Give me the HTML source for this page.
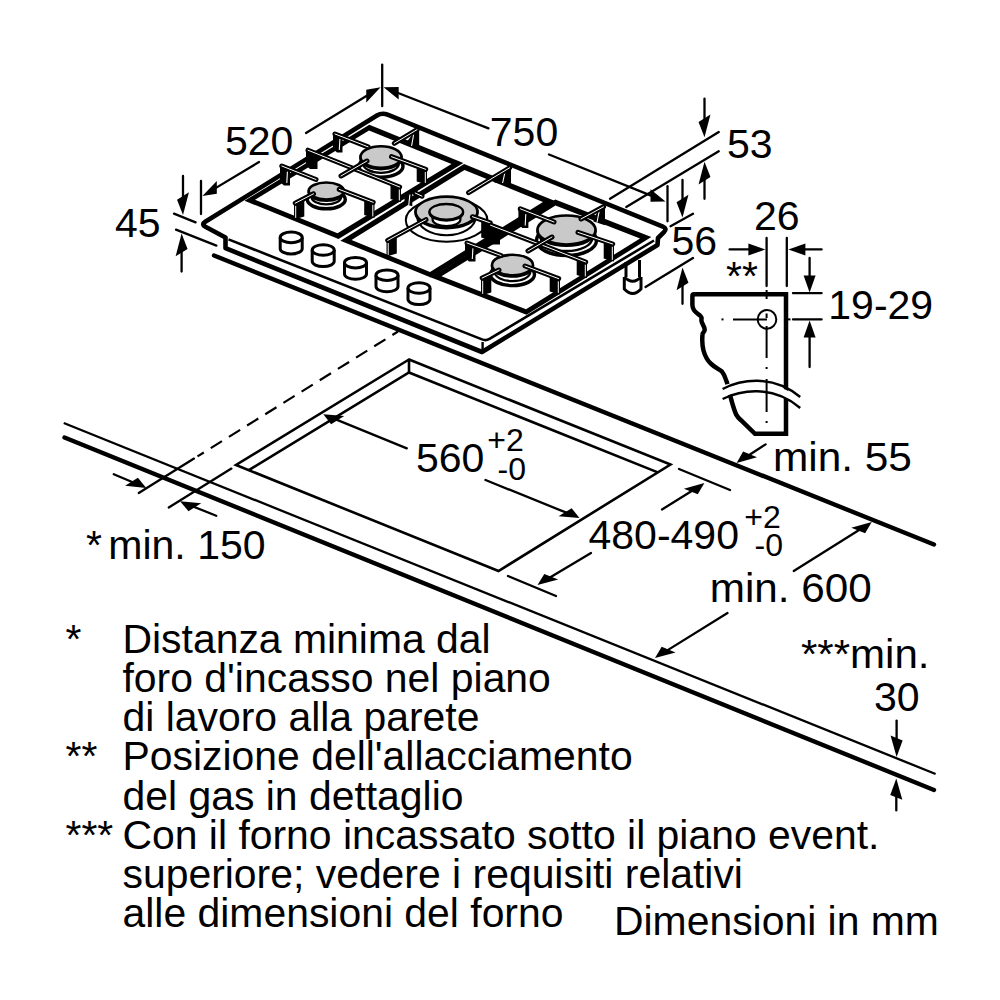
<!DOCTYPE html>
<html lang="it"><head><meta charset="utf-8"><title>Hob installation dimensions</title>
<style>html,body{margin:0;padding:0;background:#fff}svg{display:block}text{font-family:"Liberation Sans",sans-serif;fill:#000}</style></head>
<body>
<svg width="1000" height="1000" viewBox="0 0 1000 1000">
<rect width="1000" height="1000" fill="#fff"/>
<line x1="214" y1="255.5" x2="934" y2="544.5" stroke="#000" stroke-width="4.4" stroke-linecap="round" />
<line x1="63.75" y1="423" x2="935.6" y2="774" stroke="#000" stroke-width="2.3" stroke-linecap="butt" />
<line x1="64.5" y1="437.5" x2="934" y2="790" stroke="#000" stroke-width="4.4" stroke-linecap="round" />
<path d="M409 359.5 L236 465 L498.5 571 L670.5 464.5 Z" fill="none" stroke="#000" stroke-width="2.6" stroke-linejoin="miter" stroke-linecap="round" />
<path d="M248.8 470.2 L409 372.5 L657.8 472.4" fill="none" stroke="#000" stroke-width="2.6" stroke-linejoin="miter" stroke-linecap="butt" />
<line x1="409" y1="359.5" x2="409" y2="372.5" stroke="#000" stroke-width="2.6" stroke-linecap="butt" />
<line x1="398" y1="331.5" x2="197.5" y2="456.4" stroke="#000" stroke-width="2.2" stroke-linecap="butt" stroke-dasharray="13.2 8.2" stroke-dashoffset="6.6"/>
<line x1="194" y1="458.6" x2="138.75" y2="493" stroke="#000" stroke-width="2.3" stroke-linecap="round" />
<line x1="231.4" y1="468.6" x2="168.75" y2="507.5" stroke="#000" stroke-width="2.3" stroke-linecap="round" />
<line x1="113.75" y1="474.25" x2="133.36" y2="482.55" stroke="#000" stroke-width="2.3" stroke-linecap="round" />
<polygon points="146.25,488 125.13,485.71 137.9,477.82" fill="#000" stroke="none" stroke-width="0" stroke-linejoin="round"/>
<line x1="216.25" y1="515.75" x2="193" y2="506.45" stroke="#000" stroke-width="2.3" stroke-linecap="round" />
<polygon points="180,501.25 188.47,511.14 201.24,503.25" fill="#000" stroke="none" stroke-width="0" stroke-linejoin="round"/>
<path d="M225.5 237.5 L205.41 226.76 Q201 224.4 205.25 221.77 L376.9 115.56 Q382 112.4 387.56 114.66 L662.87 226.62 Q667.5 228.5 663.96 232.04 L658 238 L657.5 245 L482 352 L225.5 248.2 Z" fill="#fff" stroke="#000" stroke-width="4.6" stroke-linejoin="round"/>
<path d="M228.5 239.4 L482 339.4 Q486 341 489.5 338.9 L654 240.5" fill="none" stroke="#000" stroke-width="2.6" stroke-linejoin="round" stroke-linecap="butt" />
<line x1="482.6" y1="342" x2="482.6" y2="351" stroke="#000" stroke-width="2.4" stroke-linecap="butt" />
<polygon points="244.47,200.7 369.32,124.8 463.37,162.99 338.51,238.89" fill="#000" stroke="none" stroke-width="0" stroke-linejoin="round"/>
<polygon points="255,199.8 369,130.5 451.5,164 337.5,233.3" fill="#fff" stroke="none" stroke-width="0" stroke-linejoin="round"/>
<polygon points="340.38,240.65 464.11,164.01 554.52,200.86 430.79,277.51" fill="#000" stroke="none" stroke-width="0" stroke-linejoin="round"/>
<polygon points="351.5,240 464.5,170 543,202 430,272" fill="#fff" stroke="none" stroke-width="0" stroke-linejoin="round"/>
<polygon points="430.47,277.15 555.3,199.62 651.32,237.12 526.49,314.65" fill="#000" stroke="none" stroke-width="0" stroke-linejoin="round"/>
<polygon points="441.5,276.3 555.5,205.5 640,238.5 526,309.3" fill="#fff" stroke="none" stroke-width="0" stroke-linejoin="round"/>
<ellipse cx="381" cy="166.3" rx="22" ry="11" fill="#fff" stroke="#000" stroke-width="3.4" />
<ellipse cx="381" cy="163.7" rx="17.8" ry="9.1" fill="#fff" stroke="#000" stroke-width="2.3" />
<ellipse cx="381" cy="158.3" rx="20.5" ry="10.8" fill="#000" stroke="#000" stroke-width="2.6" />
<ellipse cx="381" cy="157" rx="20.5" ry="10.8" fill="#c9c9c9" stroke="#000" stroke-width="2.6" />
<ellipse cx="326.3" cy="199.6" rx="19" ry="9.2" fill="#fff" stroke="#000" stroke-width="3.4" />
<ellipse cx="326.3" cy="197" rx="14.8" ry="7.3" fill="#fff" stroke="#000" stroke-width="2.3" />
<ellipse cx="326.3" cy="192.3" rx="17.6" ry="8.5" fill="#000" stroke="#000" stroke-width="2.6" />
<ellipse cx="326.3" cy="191" rx="17.6" ry="8.5" fill="#c9c9c9" stroke="#000" stroke-width="2.6" />
<ellipse cx="566.5" cy="240.5" rx="30" ry="15" fill="#fff" stroke="#000" stroke-width="3.4" />
<ellipse cx="566.5" cy="237.9" rx="25.8" ry="13.1" fill="#fff" stroke="#000" stroke-width="2.3" />
<ellipse cx="566.5" cy="231.3" rx="29" ry="14.5" fill="#000" stroke="#000" stroke-width="2.6" />
<ellipse cx="566.5" cy="230" rx="29" ry="14.5" fill="#c9c9c9" stroke="#000" stroke-width="2.6" />
<ellipse cx="512.5" cy="274.6" rx="22" ry="11" fill="#fff" stroke="#000" stroke-width="3.4" />
<ellipse cx="512.5" cy="272" rx="17.8" ry="9.1" fill="#fff" stroke="#000" stroke-width="2.3" />
<ellipse cx="512.5" cy="266.3" rx="20.5" ry="10.2" fill="#000" stroke="#000" stroke-width="2.6" />
<ellipse cx="512.5" cy="265" rx="20.5" ry="10.2" fill="#c9c9c9" stroke="#000" stroke-width="2.6" />
<ellipse cx="446.6" cy="220.2" rx="40.8" ry="21.5" fill="#fff" stroke="#000" stroke-width="2" />
<ellipse cx="446.5" cy="217" rx="29.2" ry="18.2" fill="#fff" stroke="#000" stroke-width="2" />
<ellipse cx="446.5" cy="213" rx="31" ry="15.2" fill="#000" stroke="#000" stroke-width="2.4" />
<ellipse cx="446.5" cy="211.8" rx="31" ry="15.2" fill="#c9c9c9" stroke="#000" stroke-width="2.6" />
<path d="M432.6 213 L432.6 219.8 A13.9 6.2 0 0 0 460.4 219.8 L460.4 213 Z" fill="#fff" stroke="#000" stroke-width="2.2" stroke-linejoin="round" stroke-linecap="butt" />
<ellipse cx="446.3" cy="212.8" rx="16.8" ry="7.8" fill="#000" stroke="#000" stroke-width="2.2" />
<ellipse cx="446.3" cy="211.8" rx="16.8" ry="7.8" fill="#c9c9c9" stroke="#000" stroke-width="2.4" />
<polygon points="333,132 342.5,136.44 342.5,152.5 337,152.5 333,149" fill="#000" stroke="none" stroke-width="0" stroke-linejoin="round"/>
<line x1="339.9" y1="138.94" x2="339.3" y2="150" stroke="#fff" stroke-width="1.1"/>
<polygon points="306,148.5 317.5,153.75 317.5,169 310,169 306,165.5" fill="#000" stroke="none" stroke-width="0" stroke-linejoin="round"/>
<polygon points="280,164.5 290,169.15 290,185.5 284,185.5 280,182" fill="#000" stroke="none" stroke-width="0" stroke-linejoin="round"/>
<line x1="287.4" y1="171.65" x2="286.8" y2="183" stroke="#fff" stroke-width="1.1"/>
<path d="M335 134 L368 146.8" fill="none" stroke="#000" stroke-width="5.0" stroke-linejoin="miter" stroke-linecap="round" />
<path d="M335 134 L368 146.8" fill="none" stroke="#fff" stroke-width="1.0" stroke-linejoin="miter" stroke-linecap="round" />
<polygon points="401,185.5 390.5,182.75 390.5,199 401,202" fill="#000" stroke="none" stroke-width="0" stroke-linejoin="round"/>
<line x1="399.3" y1="189.2" x2="399.3" y2="200.4" stroke="#fff" stroke-width="1.0"/>
<path d="M308 150.2 L399.6 187" fill="none" stroke="#000" stroke-width="5.0" stroke-linejoin="miter" stroke-linecap="round" />
<path d="M308 150.2 L399.6 187" fill="none" stroke="#fff" stroke-width="1.0" stroke-linejoin="miter" stroke-linecap="round" />
<path d="M281.8 166 L316 179.5" fill="none" stroke="#000" stroke-width="5.0" stroke-linejoin="miter" stroke-linecap="round" />
<path d="M281.8 166 L316 179.5" fill="none" stroke="#fff" stroke-width="1.0" stroke-linejoin="miter" stroke-linecap="round" />
<polygon points="419.2,129 415,131 407,141.5 407,144.2 419.2,149.2" fill="#000" stroke="none" stroke-width="0" stroke-linejoin="round"/>
<line x1="413.6" y1="134.5" x2="411.6" y2="146" stroke="#fff" stroke-width="1.1"/>
<path d="M394.3 143.3 L417 129.7" fill="none" stroke="#000" stroke-width="5.0" stroke-linejoin="miter" stroke-linecap="round" />
<path d="M394.3 143.3 L417 129.7" fill="none" stroke="#fff" stroke-width="1.0" stroke-linejoin="miter" stroke-linecap="round" />
<polygon points="427,168 416.7,165.33 416.7,181.5 427,184.5" fill="#000" stroke="none" stroke-width="0" stroke-linejoin="round"/>
<line x1="425.3" y1="171.7" x2="425.3" y2="182.9" stroke="#fff" stroke-width="1.0"/>
<path d="M391.5 156.7 L425.7 169.3" fill="none" stroke="#000" stroke-width="5.0" stroke-linejoin="miter" stroke-linecap="round" />
<path d="M391.5 156.7 L425.7 169.3" fill="none" stroke="#fff" stroke-width="1.0" stroke-linejoin="miter" stroke-linecap="round" />
<path d="M341 176 L367 161" fill="none" stroke="#000" stroke-width="5.0" stroke-linejoin="miter" stroke-linecap="round" />
<path d="M341 176 L367 161" fill="none" stroke="#fff" stroke-width="1.0" stroke-linejoin="miter" stroke-linecap="round" />
<polygon points="374.5,201 364.2,198.33 364.2,215 374.5,218" fill="#000" stroke="none" stroke-width="0" stroke-linejoin="round"/>
<line x1="372.8" y1="204.7" x2="372.8" y2="216.4" stroke="#fff" stroke-width="1.0"/>
<path d="M339.2 189.4 L373.2 202.3" fill="none" stroke="#000" stroke-width="5.0" stroke-linejoin="miter" stroke-linecap="round" />
<path d="M339.2 189.4 L373.2 202.3" fill="none" stroke="#fff" stroke-width="1.0" stroke-linejoin="miter" stroke-linecap="round" />
<polygon points="294,202 304.3,198.14 304.3,216.5 294,219.5" fill="#000" stroke="none" stroke-width="0" stroke-linejoin="round"/>
<line x1="295.7" y1="205.7" x2="295.7" y2="217.9" stroke="#fff" stroke-width="1.0"/>
<path d="M313.5 193.8 L295.2 203.2" fill="none" stroke="#000" stroke-width="5.0" stroke-linejoin="miter" stroke-linecap="round" />
<path d="M313.5 193.8 L295.2 203.2" fill="none" stroke="#fff" stroke-width="1.0" stroke-linejoin="miter" stroke-linecap="round" />
<polygon points="404.5,193 412.3,190.3 412.3,206.3 404.5,204" fill="#000" stroke="none" stroke-width="0" stroke-linejoin="round"/>
<line x1="409.9" y1="194.5" x2="408.7" y2="205.5" stroke="#fff" stroke-width="1.1"/>
<path d="M415.2 193 L422 196.2" fill="none" stroke="#000" stroke-width="5.0" stroke-linejoin="miter" stroke-linecap="round" />
<path d="M415.2 193 L422 196.2" fill="none" stroke="#fff" stroke-width="1.0" stroke-linejoin="miter" stroke-linecap="round" />
<polygon points="511,166.8 506,169 494.5,180 494.5,182.5 511,185.8" fill="#000" stroke="none" stroke-width="0" stroke-linejoin="round"/>
<line x1="505" y1="172" x2="502.6" y2="183" stroke="#fff" stroke-width="1.1"/>
<path d="M468.6 192.6 L509.6 167.8" fill="none" stroke="#000" stroke-width="5.0" stroke-linejoin="miter" stroke-linecap="round" />
<path d="M468.6 192.6 L509.6 167.8" fill="none" stroke="#fff" stroke-width="1.0" stroke-linejoin="miter" stroke-linecap="round" />
<polygon points="386.5,239.3 396.8,235.44 396.8,253.5 386.5,256.5" fill="#000" stroke="none" stroke-width="0" stroke-linejoin="round"/>
<line x1="388.2" y1="243" x2="388.2" y2="254.9" stroke="#fff" stroke-width="1.0"/>
<path d="M426 219.6 L387.7 240.4" fill="none" stroke="#000" stroke-width="5.0" stroke-linejoin="miter" stroke-linecap="round" />
<path d="M426 219.6 L387.7 240.4" fill="none" stroke="#fff" stroke-width="1.0" stroke-linejoin="miter" stroke-linecap="round" />
<polygon points="491.5,221.5 481.2,218.83 481.2,237.5 491.5,240.5" fill="#000" stroke="none" stroke-width="0" stroke-linejoin="round"/>
<line x1="489.8" y1="225.2" x2="489.8" y2="238.9" stroke="#fff" stroke-width="1.0"/>
<path d="M472.4 216.7 L490.2 222.8" fill="none" stroke="#000" stroke-width="5.0" stroke-linejoin="miter" stroke-linecap="round" />
<path d="M472.4 216.7 L490.2 222.8" fill="none" stroke="#fff" stroke-width="1.0" stroke-linejoin="miter" stroke-linecap="round" />
<polygon points="465,241 475.5,245.85 475.5,261.5 469,261.5 465,258" fill="#000" stroke="none" stroke-width="0" stroke-linejoin="round"/>
<line x1="472.9" y1="248.35" x2="472.3" y2="259" stroke="#fff" stroke-width="1.1"/>
<polygon points="488.5,223 500,228.25 500,244.5 492.5,244.5 488.5,241" fill="#000" stroke="none" stroke-width="0" stroke-linejoin="round"/>
<polygon points="518.4,207 528.4,211.65 528.4,228 522.4,228 518.4,224.5" fill="#000" stroke="none" stroke-width="0" stroke-linejoin="round"/>
<line x1="525.8" y1="214.15" x2="525.2" y2="225.5" stroke="#fff" stroke-width="1.1"/>
<path d="M467 243 L501 255.5" fill="none" stroke="#000" stroke-width="5.0" stroke-linejoin="miter" stroke-linecap="round" />
<path d="M467 243 L501 255.5" fill="none" stroke="#fff" stroke-width="1.0" stroke-linejoin="miter" stroke-linecap="round" />
<polygon points="587,260.8 576.7,258.13 576.7,275 587,278" fill="#000" stroke="none" stroke-width="0" stroke-linejoin="round"/>
<line x1="585.3" y1="264.5" x2="585.3" y2="276.4" stroke="#fff" stroke-width="1.0"/>
<path d="M490.5 225.2 L585.7 262" fill="none" stroke="#000" stroke-width="5.0" stroke-linejoin="miter" stroke-linecap="round" />
<path d="M490.5 225.2 L585.7 262" fill="none" stroke="#fff" stroke-width="1.0" stroke-linejoin="miter" stroke-linecap="round" />
<path d="M520.3 208.8 L554 222" fill="none" stroke="#000" stroke-width="5.0" stroke-linejoin="miter" stroke-linecap="round" />
<path d="M520.3 208.8 L554 222" fill="none" stroke="#fff" stroke-width="1.0" stroke-linejoin="miter" stroke-linecap="round" />
<path d="M528 251 L552 237" fill="none" stroke="#000" stroke-width="5.0" stroke-linejoin="miter" stroke-linecap="round" />
<path d="M528 251 L552 237" fill="none" stroke="#fff" stroke-width="1.0" stroke-linejoin="miter" stroke-linecap="round" />
<polygon points="605,205.3 600.5,207.5 593.5,218.5 593.5,221.5 605,225.3" fill="#000" stroke="none" stroke-width="0" stroke-linejoin="round"/>
<line x1="599.2" y1="211" x2="597" y2="222.5" stroke="#fff" stroke-width="1.1"/>
<path d="M581 219 L603.5 206.8" fill="none" stroke="#000" stroke-width="5.0" stroke-linejoin="miter" stroke-linecap="round" />
<path d="M581 219 L603.5 206.8" fill="none" stroke="#fff" stroke-width="1.0" stroke-linejoin="miter" stroke-linecap="round" />
<polygon points="614,242.8 603.7,240.13 603.7,258.5 614,261.5" fill="#000" stroke="none" stroke-width="0" stroke-linejoin="round"/>
<line x1="612.3" y1="246.5" x2="612.3" y2="259.9" stroke="#fff" stroke-width="1.0"/>
<path d="M578 232.4 L612.7 244" fill="none" stroke="#000" stroke-width="5.0" stroke-linejoin="miter" stroke-linecap="round" />
<path d="M578 232.4 L612.7 244" fill="none" stroke="#fff" stroke-width="1.0" stroke-linejoin="miter" stroke-linecap="round" />
<polygon points="560,277.5 549.7,274.83 549.7,291.5 560,294.5" fill="#000" stroke="none" stroke-width="0" stroke-linejoin="round"/>
<line x1="558.3" y1="281.2" x2="558.3" y2="292.9" stroke="#fff" stroke-width="1.0"/>
<path d="M525 266 L558.7 278.7" fill="none" stroke="#000" stroke-width="5.0" stroke-linejoin="miter" stroke-linecap="round" />
<path d="M525 266 L558.7 278.7" fill="none" stroke="#fff" stroke-width="1.0" stroke-linejoin="miter" stroke-linecap="round" />
<polygon points="481,277 491.3,273.14 491.3,292.5 481,295.5" fill="#000" stroke="none" stroke-width="0" stroke-linejoin="round"/>
<line x1="482.7" y1="280.7" x2="482.7" y2="293.9" stroke="#fff" stroke-width="1.0"/>
<path d="M499 270 L482.2 278" fill="none" stroke="#000" stroke-width="5.0" stroke-linejoin="miter" stroke-linecap="round" />
<path d="M499 270 L482.2 278" fill="none" stroke="#fff" stroke-width="1.0" stroke-linejoin="miter" stroke-linecap="round" />
<path d="M280.2 237.4 L280.2 248.70000000000002 A11 5.3 0 0 0 302.2 248.70000000000002 L302.2 237.4" fill="#fff" stroke="#000" stroke-width="3" stroke-linejoin="round" stroke-linecap="butt" />
<ellipse cx="291.2" cy="237.4" rx="11" ry="5.3" fill="#fff" stroke="#000" stroke-width="3" />
<path d="M312.2 250 L312.2 261.3 A11 5.3 0 0 0 334.2 261.3 L334.2 250" fill="#fff" stroke="#000" stroke-width="3" stroke-linejoin="round" stroke-linecap="butt" />
<ellipse cx="323.2" cy="250" rx="11" ry="5.3" fill="#fff" stroke="#000" stroke-width="3" />
<path d="M344.5 262.7 L344.5 274.0 A11 5.3 0 0 0 366.5 274.0 L366.5 262.7" fill="#fff" stroke="#000" stroke-width="3" stroke-linejoin="round" stroke-linecap="butt" />
<ellipse cx="355.5" cy="262.7" rx="11" ry="5.3" fill="#fff" stroke="#000" stroke-width="3" />
<path d="M376 275.2 L376 286.5 A11 5.3 0 0 0 398 286.5 L398 275.2" fill="#fff" stroke="#000" stroke-width="3" stroke-linejoin="round" stroke-linecap="butt" />
<ellipse cx="387" cy="275.2" rx="11" ry="5.3" fill="#fff" stroke="#000" stroke-width="3" />
<path d="M408 288 L408 299.3 A11 5.3 0 0 0 430 299.3 L430 288" fill="#fff" stroke="#000" stroke-width="3" stroke-linejoin="round" stroke-linecap="butt" />
<ellipse cx="419" cy="288" rx="11" ry="5.3" fill="#fff" stroke="#000" stroke-width="3" />
<path d="M626 262 L626 277 M639.5 260 L639.5 277" fill="none" stroke="#000" stroke-width="3" stroke-linejoin="round" stroke-linecap="butt" />
<path d="M624.3 277 L624.3 289 Q632.7 298 641 289 L641 277" fill="none" stroke="#000" stroke-width="3" stroke-linejoin="round" stroke-linecap="butt" />
<path d="M624.3 277 Q632.7 285.5 641 277" fill="none" stroke="#000" stroke-width="3" stroke-linejoin="round" stroke-linecap="butt" />
<line x1="201" y1="181" x2="201" y2="214" stroke="#000" stroke-width="2.3" stroke-linecap="round" />
<line x1="259" y1="162" x2="215.09" y2="188.38" stroke="#000" stroke-width="2.3" stroke-linecap="round" />
<polygon points="202.4,196 216.8,193.65 216.8,181.05" fill="#000" stroke="none" stroke-width="0" stroke-linejoin="round"/>
<line x1="306" y1="133" x2="367.98" y2="95.03" stroke="#000" stroke-width="2.3" stroke-linecap="round" />
<polygon points="380.6,87.3 366.27,102.38 366.27,89.78" fill="#000" stroke="none" stroke-width="0" stroke-linejoin="round"/>
<text x="225" y="155" font-size="41" text-anchor="start" >520</text>
<line x1="382.2" y1="64.6" x2="382.2" y2="106.2" stroke="#000" stroke-width="2.3" stroke-linecap="round" />
<line x1="488.5" y1="128.4" x2="396.82" y2="92.48" stroke="#000" stroke-width="2.3" stroke-linecap="round" />
<polygon points="383.6,87.3 398.68,99.51 398.68,86.91" fill="#000" stroke="none" stroke-width="0" stroke-linejoin="round"/>
<line x1="549" y1="154.5" x2="652.33" y2="196.19" stroke="#000" stroke-width="2.3" stroke-linecap="round" />
<polygon points="665.5,201.5 650.48,201.74 650.48,189.14" fill="#000" stroke="none" stroke-width="0" stroke-linejoin="round"/>
<text x="489.8" y="146.4" font-size="41" text-anchor="start" >750</text>
<line x1="667.5" y1="186.25" x2="667.5" y2="221.25" stroke="#000" stroke-width="2.3" stroke-linecap="round" />
<line x1="704.5" y1="98.75" x2="704.5" y2="120.2" stroke="#000" stroke-width="2.3" stroke-linecap="round" />
<polygon points="704.5,137.2 698.54,121.88 710.46,114.52" fill="#000" stroke="none" stroke-width="0" stroke-linejoin="round"/>
<line x1="610" y1="198.75" x2="718.75" y2="132" stroke="#000" stroke-width="2.3" stroke-linecap="round" />
<line x1="626.25" y1="207" x2="718.75" y2="151.25" stroke="#000" stroke-width="2.3" stroke-linecap="round" />
<line x1="704.5" y1="198.75" x2="704.5" y2="178.8" stroke="#000" stroke-width="2.3" stroke-linecap="round" />
<polygon points="704.5,161.8 698.54,184.48 710.46,177.12" fill="#000" stroke="none" stroke-width="0" stroke-linejoin="round"/>
<text x="727" y="158" font-size="41" text-anchor="start" >53</text>
<line x1="682.5" y1="180" x2="682.5" y2="200.5" stroke="#000" stroke-width="2.3" stroke-linecap="round" />
<polygon points="682.5,217.5 676.54,202.18 688.46,194.82" fill="#000" stroke="none" stroke-width="0" stroke-linejoin="round"/>
<line x1="670.5" y1="226.25" x2="693" y2="213.75" stroke="#000" stroke-width="2.3" stroke-linecap="round" />
<line x1="645.5" y1="287" x2="693" y2="258" stroke="#000" stroke-width="2.3" stroke-linecap="round" />
<line x1="682.5" y1="303.75" x2="682.5" y2="284.5" stroke="#000" stroke-width="2.3" stroke-linecap="round" />
<polygon points="682.5,267.5 676.54,290.18 688.46,282.82" fill="#000" stroke="none" stroke-width="0" stroke-linejoin="round"/>
<text x="671.5" y="255" font-size="41" text-anchor="start" >56</text>
<line x1="183" y1="176" x2="183" y2="198" stroke="#000" stroke-width="2.3" stroke-linecap="round" />
<polygon points="183,215 177.04,199.68 188.96,192.32" fill="#000" stroke="none" stroke-width="0" stroke-linejoin="round"/>
<line x1="174" y1="213.6" x2="195.6" y2="222.4" stroke="#000" stroke-width="2.3" stroke-linecap="round" />
<line x1="176" y1="229.6" x2="216.4" y2="245.6" stroke="#000" stroke-width="2.3" stroke-linecap="round" />
<line x1="181.6" y1="271.6" x2="181.6" y2="250.6" stroke="#000" stroke-width="2.3" stroke-linecap="round" />
<polygon points="181.6,233.6 175.64,256.28 187.56,248.92" fill="#000" stroke="none" stroke-width="0" stroke-linejoin="round"/>
<text x="115" y="237" font-size="41" text-anchor="start" >45</text>
<text x="754" y="229.5" font-size="41" text-anchor="start" >26</text>
<line x1="766.6" y1="238" x2="766.6" y2="286" stroke="#000" stroke-width="2.3" stroke-linecap="round" />
<line x1="786.8" y1="238" x2="786.8" y2="286" stroke="#000" stroke-width="2.3" stroke-linecap="round" />
<line x1="729.6" y1="249.4" x2="750.4" y2="249.4" stroke="#000" stroke-width="2.3" stroke-linecap="round" />
<polygon points="765.4,249.4 748.4,255.4 748.4,243.4" fill="#000" stroke="none" stroke-width="0" stroke-linejoin="round"/>
<line x1="821.6" y1="249.4" x2="803.4" y2="249.4" stroke="#000" stroke-width="2.3" stroke-linecap="round" />
<polygon points="788.4,249.4 805.4,243.4 805.4,255.4" fill="#000" stroke="none" stroke-width="0" stroke-linejoin="round"/>
<text x="726" y="289.5" font-size="41" text-anchor="start" >**</text>
<line x1="809.6" y1="258" x2="809.6" y2="277.4" stroke="#000" stroke-width="2.3" stroke-linecap="round" />
<polygon points="809.6,292.4 803.6,275.4 815.6,275.4" fill="#000" stroke="none" stroke-width="0" stroke-linejoin="round"/>
<line x1="793" y1="293.2" x2="821.6" y2="293.2" stroke="#000" stroke-width="2.3" stroke-linecap="round" />
<line x1="793" y1="319.4" x2="821.6" y2="319.4" stroke="#000" stroke-width="2.3" stroke-linecap="round" />
<line x1="809.6" y1="367" x2="809.6" y2="335.6" stroke="#000" stroke-width="2.3" stroke-linecap="round" />
<polygon points="809.6,320.6 815.6,337.6 803.6,337.6" fill="#000" stroke="none" stroke-width="0" stroke-linejoin="round"/>
<text x="828.3" y="319.2" font-size="41" text-anchor="start" >19-29</text>
<path d="M692.4 296 L692.4 305 C692.6 309 695 312 697.8 313.8 C699.6 315 701.6 316.4 701.6 318 C701.4 319.6 701 321.2 702.2 323.2 C703.4 325.4 704.8 327.5 704.7 330 C704.6 332 702.6 332.4 702.5 334.2 C702 340 702.3 346 703.5 350.5 C705 356 707 360 710.6 363.4 C714 367 719 369 721.8 371.4 C724 374 725 377 725.8 379.4 C727 382 727.7 385 728.2 387.4 L731.4 400.2 C733 406 734.5 411 736.2 414.6 C737.5 417 739 418.5 741 420.2 L755 433.8 L786 433.8 L786 294.3 L694 294.3 Q692.4 294.3 692.4 296 Z" fill="#fff" stroke="#000" stroke-width="4.5" stroke-linejoin="miter" stroke-linecap="butt" />
<path d="M715 389 C735 379 765 376 800 397 L806 410 C770 386 745 388 715 400 Z" fill="#fff" stroke="none"/>
<path d="M722.6 389 C740 380 772 373.5 800.2 397" fill="none" stroke="#000" stroke-width="2.4" stroke-linejoin="round" stroke-linecap="butt" />
<path d="M722.6 399 C740 390.5 772 384 800.2 408" fill="none" stroke="#000" stroke-width="2.4" stroke-linejoin="round" stroke-linecap="butt" />
<ellipse cx="767" cy="319.4" rx="9.3" ry="9.3" fill="none" stroke="#000" stroke-width="2" />
<line x1="733" y1="319.4" x2="767" y2="319.4" stroke="#000" stroke-width="2" stroke-linecap="butt" />
<line x1="721.5" y1="319.4" x2="723.5" y2="319.4" stroke="#000" stroke-width="2" stroke-linecap="butt" />
<line x1="788" y1="319.4" x2="790.5" y2="319.4" stroke="#000" stroke-width="2" stroke-linecap="butt" />
<line x1="766.6" y1="290" x2="766.6" y2="299" stroke="#000" stroke-width="2" stroke-linecap="butt" />
<line x1="766.6" y1="313.5" x2="766.6" y2="318" stroke="#000" stroke-width="2" stroke-linecap="butt" />
<line x1="766.6" y1="326" x2="766.6" y2="358" stroke="#000" stroke-width="2" stroke-linecap="butt" />
<line x1="766.6" y1="367" x2="766.6" y2="369" stroke="#000" stroke-width="2" stroke-linecap="butt" />
<line x1="766.6" y1="379" x2="766.6" y2="412" stroke="#000" stroke-width="2" stroke-linecap="butt" />
<line x1="766.6" y1="421" x2="766.6" y2="423" stroke="#000" stroke-width="2" stroke-linecap="butt" />
<line x1="765.6" y1="444.4" x2="748.38" y2="455.44" stroke="#000" stroke-width="2.3" stroke-linecap="round" />
<polygon points="736.6,463 757.01,457.19 743.12,451.53" fill="#000" stroke="none" stroke-width="0" stroke-linejoin="round"/>
<text x="773" y="471.4" font-size="41" text-anchor="start" textLength="138.9" lengthAdjust="spacingAndGlyphs">min. 55</text>
<line x1="406.8" y1="448.4" x2="335.8" y2="419.4" stroke="#000" stroke-width="2.3" stroke-linecap="round" />
<polygon points="323.3,414.3 331.1,424.21 344.2,416.11" fill="#000" stroke="none" stroke-width="0" stroke-linejoin="round"/>
<line x1="485.5" y1="480" x2="566.98" y2="512.94" stroke="#000" stroke-width="2.3" stroke-linecap="round" />
<polygon points="579.5,518 558.58,516.24 571.68,508.14" fill="#000" stroke="none" stroke-width="0" stroke-linejoin="round"/>
<text x="416" y="472" font-size="41" text-anchor="start" >560</text>
<text x="487.3" y="451.3" font-size="32" text-anchor="start" >+2</text>
<text x="497.5" y="479.6" font-size="32" text-anchor="start" >-0</text>
<line x1="679" y1="469" x2="730" y2="490" stroke="#000" stroke-width="2.3" stroke-linecap="round" />
<line x1="662" y1="509.5" x2="692.53" y2="490.42" stroke="#000" stroke-width="2.3" stroke-linecap="round" />
<polygon points="704.4,483 697.78,494.31 683.89,488.65" fill="#000" stroke="none" stroke-width="0" stroke-linejoin="round"/>
<line x1="591" y1="553" x2="549.51" y2="577.81" stroke="#000" stroke-width="2.3" stroke-linecap="round" />
<polygon points="537.5,585 558.18,579.61 544.29,573.96" fill="#000" stroke="none" stroke-width="0" stroke-linejoin="round"/>
<line x1="508" y1="576" x2="556" y2="596" stroke="#000" stroke-width="2.3" stroke-linecap="round" />
<text x="588.5" y="549" font-size="41" text-anchor="start" >480-490</text>
<text x="744.2" y="528.2" font-size="32" text-anchor="start" >+2</text>
<text x="754.6" y="556.2" font-size="32" text-anchor="start" >-0</text>
<line x1="793.75" y1="571" x2="859.9" y2="529.45" stroke="#000" stroke-width="2.3" stroke-linecap="round" />
<polygon points="871.75,522 865.15,533.34 851.26,527.68" fill="#000" stroke="none" stroke-width="0" stroke-linejoin="round"/>
<line x1="727.5" y1="613" x2="666.89" y2="650.62" stroke="#000" stroke-width="2.3" stroke-linecap="round" />
<polygon points="655,658 675.54,652.39 661.65,646.73" fill="#000" stroke="none" stroke-width="0" stroke-linejoin="round"/>
<text x="709.7" y="602" font-size="41" text-anchor="start" textLength="162.1" lengthAdjust="spacingAndGlyphs">min. 600</text>
<text x="801" y="667.8" font-size="41" text-anchor="start" textLength="128.5" lengthAdjust="spacingAndGlyphs">***min.</text>
<text x="874" y="710.5" font-size="41" text-anchor="start" >30</text>
<line x1="896.6" y1="720.6" x2="896.6" y2="740" stroke="#000" stroke-width="2.3" stroke-linecap="round" />
<polygon points="896.6,757 902.62,740.45 890.58,735.55" fill="#000" stroke="none" stroke-width="0" stroke-linejoin="round"/>
<line x1="896.3" y1="810.4" x2="896.3" y2="795.4" stroke="#000" stroke-width="2.3" stroke-linecap="round" />
<polygon points="896.3,778.4 902.32,799.85 890.28,794.95" fill="#000" stroke="none" stroke-width="0" stroke-linejoin="round"/>
<text x="85.9" y="558.7" font-size="41" text-anchor="start" >*</text>
<text x="108.3" y="558.7" font-size="41" text-anchor="start" >min. 150</text>
<text x="122.5" y="652.8" font-size="40.9" text-anchor="start" >Distanza minima dal</text>
<text x="122.5" y="692" font-size="40.9" text-anchor="start" >foro d&#39;incasso nel piano</text>
<text x="122.5" y="731.1" font-size="40.9" text-anchor="start" >di lavoro alla parete</text>
<text x="122.5" y="770.3" font-size="40.9" text-anchor="start" >Posizione dell&#39;allacciamento</text>
<text x="122.5" y="809.5" font-size="40.9" text-anchor="start" >del gas in dettaglio</text>
<text x="122.5" y="848.7" font-size="40.9" text-anchor="start" >Con il forno incassato sotto il piano event.</text>
<text x="122.5" y="887.8" font-size="40.9" text-anchor="start" >superiore; vedere i requisiti relativi</text>
<text x="122.5" y="927" font-size="40.9" text-anchor="start" >alle dimensioni del forno</text>
<text x="65.5" y="652.8" font-size="40.9" text-anchor="start" >*</text>
<text x="65.5" y="770.3" font-size="40.9" text-anchor="start" >**</text>
<text x="65.5" y="848.7" font-size="40.9" text-anchor="start" >***</text>
<text x="614" y="935" font-size="40.9" text-anchor="start" >Dimensioni in mm</text>
</svg>
</body></html>
